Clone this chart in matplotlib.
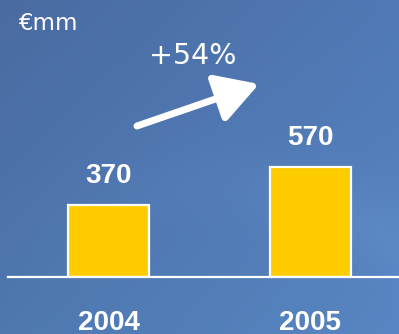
import numpy as np
import matplotlib
matplotlib.use("Agg")
import matplotlib.pyplot as plt
from matplotlib.colors import to_rgb

# Revenue in euro millions
years = ["2004", "2005"]
revenue = [370, 570]
value_labels = ["370", "570"]
growth_label = "+54%"
unit_label = "€mm"

W, H = 399, 334
fig = plt.figure(figsize=(W / 100, H / 100), dpi=100)

# Blue gradient backdrop
bg = fig.add_axes([0, 0, 1, 1])
bg.set_axis_off()
ny, nx = 120, 140
yy, xx = np.mgrid[0:1:ny * 1j, 0:1:nx * 1j]
tl, tr = np.array(to_rgb("#4a6ba2")), np.array(to_rgb("#5079b5"))
bl, br = np.array(to_rgb("#4f78b0")), np.array(to_rgb("#5886c2"))
img = ((1 - xx)[..., None] * (1 - yy)[..., None] * tl
       + xx[..., None] * (1 - yy)[..., None] * tr
       + (1 - xx)[..., None] * yy[..., None] * bl
       + xx[..., None] * yy[..., None] * br)
# faint light swoosh across the lower right
d = (yy - 0.55) - 0.9 * (xx - 0.55) ** 2
img = img + 0.025 * np.exp(-(d / 0.12) ** 2)[..., None] * xx[..., None]
bg.imshow(np.clip(img, 0, 1), extent=[0, 1, 0, 1], aspect="auto",
          interpolation="bicubic", origin="upper")
bg.set_xlim(0, 1)
bg.set_ylim(0, 1)

# Bar axes: baseline 277 px from top
base_px = 277
ax = fig.add_axes([0, (H - base_px) / H, 1, base_px / H])
ax.patch.set_alpha(0)
for s in ax.spines.values():
    s.set_visible(False)
ax.set_xticks([])
ax.set_yticks([])

spacing = 202.0
c0 = 108.5
ax.set_xlim(-c0 / spacing, (W - c0) / spacing)
ax.set_ylim(0, base_px / 0.1935)

x = np.arange(len(years))
ax.bar(x, revenue, width=0.405, color="#ffcc00", edgecolor="white",
       linewidth=1.6, zorder=3)
ax.axhline(0, xmin=8 / W, xmax=1, color="white", linewidth=1.6, zorder=4,
           clip_on=False)

for xi, v, lab in zip(x, revenue, value_labels):
    ax.annotate(lab, (xi, v), xytext=(0, 21), textcoords="offset points",
                ha="center", va="center", color="white", fontsize=20,
                fontweight="bold", family="Liberation Sans")

for xi, lab in zip(x, years):
    ax.annotate(lab, (xi, 0), xytext=(0, -33), textcoords="offset points",
                ha="center", va="center", color="white", fontsize=20,
                fontweight="bold", family="Liberation Sans",
                annotation_clip=False)

fig.text(18 / W, 1 - 24 / H, unit_label, color="white", fontsize=16.5,
         family="DejaVu Sans", ha="left", va="center")
fig.text(193 / W, 1 - 56 / H, growth_label, color="white", fontsize=20.5,
         family="DejaVu Sans", ha="center", va="center")

# Growth arrow
bg.annotate("", xy=(259 / W, 1 - 84 / H), xytext=(137 / W, 1 - 126 / H),
            xycoords="axes fraction", textcoords="axes fraction",
            arrowprops=dict(arrowstyle="-|>,head_length=1.3,head_width=0.75",
                            color="white", lw=5, capstyle="round",
                            shrinkA=0, shrinkB=0, mutation_scale=20),
            zorder=5)

fig.savefig("out.png", dpi=100)
